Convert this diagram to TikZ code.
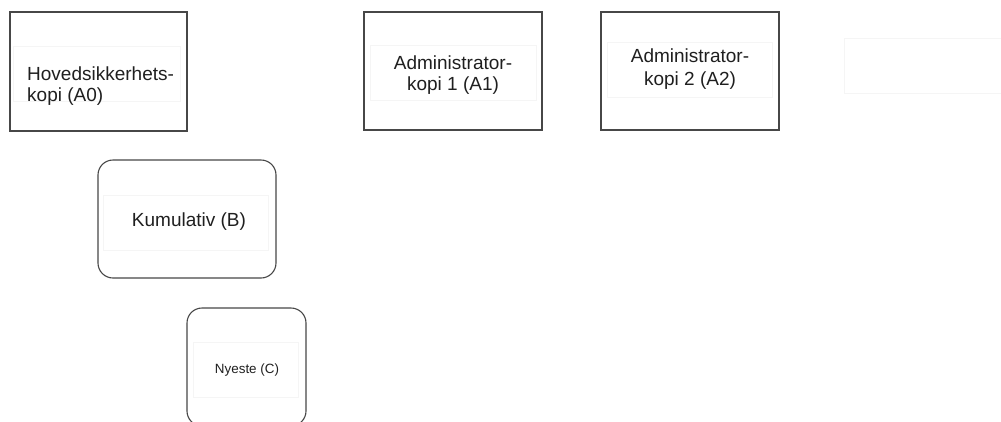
\documentclass[tikz,border=0pt]{standalone}
\usepackage{fontspec}
\setmainfont{Liberation Sans}
\begin{document}
\begin{tikzpicture}[x=1pt,y=-1pt,
  box/.style={draw=black!72,line width=1.1pt},
  rbox/.style={box,rounded corners=15pt},
  faint/.style={draw=black!4,line width=0.8pt},
  lbl/.style={font=\fontsize{19}{21.5}\selectfont,inner sep=0pt,text=black!88},
  small/.style={font=\fontsize{13.4}{15}\selectfont,inner sep=0pt,text=black!88}]
\useasboundingbox (0,0) rectangle (1001,421);
\clip (0,0) rectangle (1001,421);
% boxes
\draw[box] (10,12) rectangle (187,131);
\draw[box] (364,12) rectangle (542,130);
\draw[box] (601,12) rectangle (779,130);
\draw[rbox] (98,160) rectangle (276,278);
\draw[rbox] (187,308) rectangle (306,426);
% faint inner frames
\draw[faint] (13,46) rectangle (180,101);
\draw[faint] (370,45) rectangle (536,100);
\draw[faint] (607,42) rectangle (772,97);
\draw[faint] (844,38) rectangle (1005,93);
\draw[faint] (103,195) rectangle (268,250);
\draw[faint] (193,342) rectangle (298,397);
% labels
\node[lbl,align=left,anchor=west] (a0) at (27,86) {Hovedsikkerhets-\\kopi (A0)};
\node[lbl,align=center] (a1) at (453,75) {Administrator-\\kopi 1 (A1)};
\node[lbl,align=center] (a2) at (690,69) {Administrator-\\[2pt]kopi 2 (A2)};
\node[lbl] (b) at (189,222) {Kumulativ (B)};
\node[small] (c) at (247,370) {Nyeste (C)};
\end{tikzpicture}
\end{document}
